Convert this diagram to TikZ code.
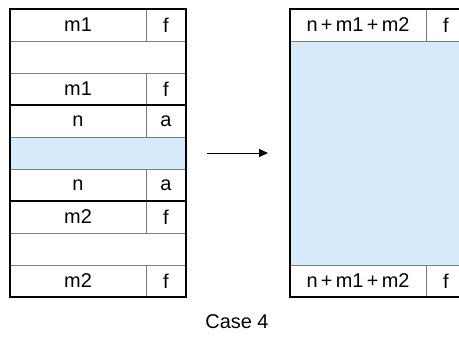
\documentclass[tikz,border=0pt]{standalone}
\usepackage{fontspec}
\setmainfont{Liberation Sans}
\usetikzlibrary{arrows.meta}
\definecolor{freeblue}{RGB}{214,236,250}
\definecolor{rulegray}{RGB}{125,125,125}

\begin{document}
\begin{tikzpicture}[x=1bp,y=-1bp,
  every node/.style={inner sep=0pt,outer sep=0pt},
  cell/.style={draw=rulegray,line width=0.9bp,minimum height=32bp,font=\fontsize{20}{22}\selectfont},
  mcell/.style={cell,minimum width=136bp},
  tcell/.style={cell,minimum width=40bp},
  wcell/.style={cell,minimum width=176bp},
  bcell/.style={wcell,fill=freeblue},
  frame/.style={draw=black,line width=2bp},
  ttl/.style={font=\fontsize{20}{22}\selectfont},
]
  \useasboundingbox (0,0) rectangle (459,337);
  \clip (0,0) rectangle (459,337);
  % ============ before: free list ============
  \node[mcell] (m1a) at (78,25) {m1};
  \node[tcell] (t1a) at (166,25) {f};
  \node[wcell] (e1) at (98,57) {};
  \node[mcell] (m1b) at (78,89) {m1};
  \node[tcell] (t1b) at (166,89) {f};
  \node[mcell] (na) at (78,121) {n};
  \node[tcell] (tna) at (166,121) {a};
  \node[bcell] (blk) at (98,153) {};
  \node[mcell] (nb) at (78,185) {n};
  \node[tcell] (tnb) at (166,185) {a};
  \node[mcell] (m2a) at (78,217) {m2};
  \node[tcell] (t2a) at (166,217) {f};
  \node[wcell] (e2) at (98,249) {};
  \node[mcell] (m2b) at (78,281) {m2};
  \node[tcell] (t2b) at (166,281) {f};
  \draw[frame] (m1a.north west) rectangle (t2b.south east);
  \draw[frame] (m1b.south west) -- (t1b.south east);
  \draw[frame] (nb.south west) -- (tnb.south east);
  % ============ after: coalesced ============
  \node[mcell] (sa) at (358,25) {n\,+\,m1\,+\,m2};
  \node[tcell] (ta) at (446,25) {f};
  \node[bcell,minimum height=224bp] (big) at (378,153) {};
  \node[mcell] (sb) at (358,281) {n\,+\,m1\,+\,m2};
  \node[tcell] (tb) at (446,281) {f};
  \draw[frame] (sa.north west) rectangle (tb.south east);
  % arrow
  \coordinate (arrs) at (207,153);
  \coordinate (arre) at (268,153);
  \draw[line width=1bp,-{Triangle[length=9bp,width=8bp]}] (arrs) -- (arre);
  \node[ttl] (cap) at (237,322) {Case 4};
\end{tikzpicture}
\end{document}
